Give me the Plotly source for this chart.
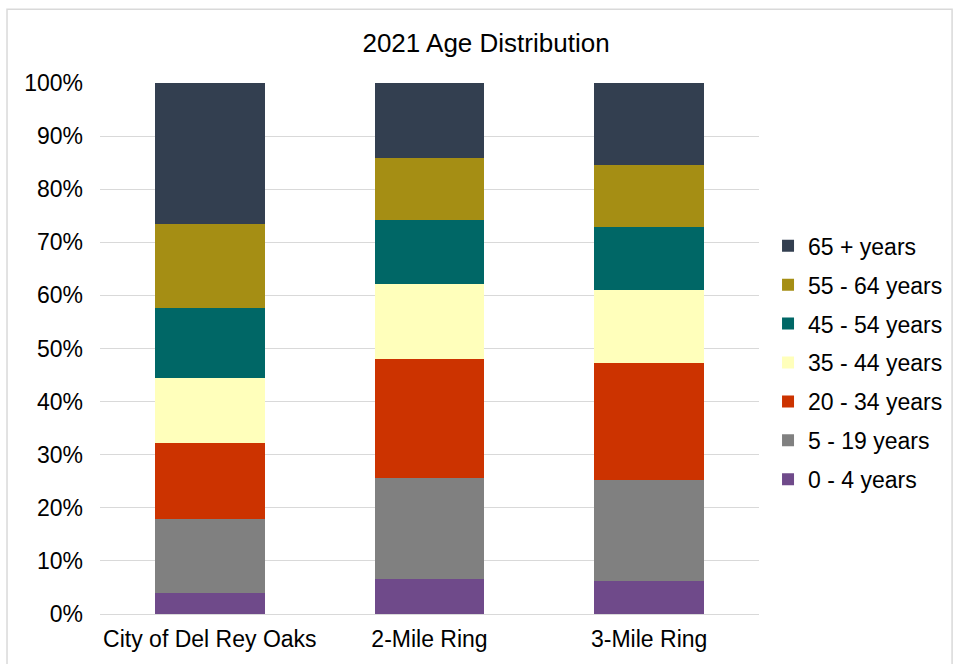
import plotly.graph_objects as go

categories = ["City of Del Rey Oaks", "2-Mile Ring", "3-Mile Ring"]
age_groups = ["0 - 4 years", "5 - 19 years", "20 - 34 years", "35 - 44 years",
              "45 - 54 years", "55 - 64 years", "65 + years"]
age_0_4 = [0.040, 0.065, 0.063]
age_5_19 = [0.138, 0.191, 0.189]
age_20_34 = [0.144, 0.224, 0.220]
age_35_44 = [0.123, 0.142, 0.139]
age_45_54 = [0.132, 0.120, 0.118]
age_55_64 = [0.157, 0.117, 0.116]
age_65_plus = [0.266, 0.141, 0.155]
series = [age_0_4, age_5_19, age_20_34, age_35_44, age_45_54, age_55_64, age_65_plus]
colors = ["#6F4A8A", "#808080", "#CC3300", "#FFFFBB", "#006766", "#A58E14", "#333F50"]
tick_vals = [i / 10 for i in range(11)]
tick_text = [f"{i*10}%" for i in range(11)]

fig = go.Figure()
n = len(age_groups)
for i, (name, vals, col) in enumerate(zip(age_groups, series, colors)):
    fig.add_trace(go.Bar(
        x=categories, y=vals, name=name, legendgroup=name,
        legendrank=n - i,
        marker=dict(color=col, line=dict(width=0)),
    ))

fig.update_layout(
    barmode="stack",
    bargap=0.5,
    width=953, height=664,
    margin=dict(l=100, r=194, t=83, b=50, autoexpand=False),
    paper_bgcolor="white", plot_bgcolor="white",
    font=dict(family="Liberation Sans, Arial, sans-serif", size=23, color="#000000"),
    title=dict(text="2021 Age Distribution", x=0.51, xref="container", xanchor="center",
               y=1 - 43 / 664, yanchor="middle",
               font=dict(size=26, color="#000000")),
    legend=dict(traceorder="grouped", x=1.0137, xanchor="left",
                y=0.473, yanchor="middle",
                font=dict(size=23), tracegroupgap=6, itemwidth=30,
                bgcolor="rgba(0,0,0,0)"),
    showlegend=True,
    xaxis=dict(showline=True, linecolor="#D9D9D9", linewidth=1, ticks="",
               ticklabelstandoff=4, tickfont=dict(size=23)),
    yaxis=dict(range=[0, 1], tickvals=tick_vals, ticktext=tick_text,
               showgrid=True, gridcolor="#D9D9D9", gridwidth=1, zeroline=False,
               ticks="", ticklen=0, ticklabelstandoff=16, tickfont=dict(size=23)),
    shapes=[dict(type="rect", xref="paper", yref="paper",
                 x0=-0.1411, x1=1.293, y0=-0.105, y1=1.139,
                 line=dict(color="#D9D9D9", width=1.5), layer="below")],
)

fig.write_html("out.html")
